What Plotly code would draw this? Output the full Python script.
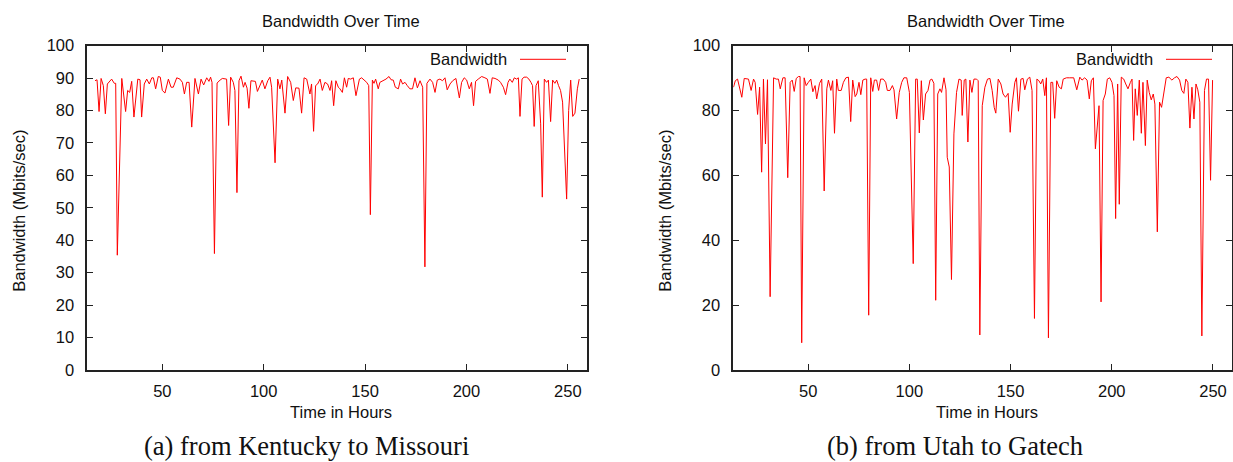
import plotly.graph_objects as go

# ---------------- data ----------------
ky_hours = [16.8, 17.8, 18.8, 19.8, 20.9, 21.9, 22.9, 25.0, 26.3, 27.0, 27.8, 30.0, 31.9, 32.9, 33.9, 34.9,
            36.0, 37.9, 39.0, 39.8, 41.1, 42.3, 43.6, 44.8, 45.6, 46.7, 48.0, 49.0, 50.0, 51.3, 53.0, 54.3,
            55.4, 57.1, 58.7, 59.9, 60.9, 62.0, 63.2, 64.5, 66.1, 67.8, 69.1, 70.4, 71.9, 73.0, 73.8, 74.5,
            75.7, 77.0, 78.5, 79.6, 81.7, 82.7, 83.7, 85.0, 85.8, 86.8, 87.8, 88.8, 90.0, 90.8, 91.8, 92.7,
            93.7, 94.9, 95.9, 96.9, 98.2, 99.3, 100.6, 102.0, 103.1, 103.9, 105.6, 106.9, 108.0, 108.9, 110.5,
            111.8, 113.3, 114.6, 115.8, 117.4, 118.7, 119.9, 121.2, 122.8, 123.6, 124.6, 125.6, 126.6, 127.8,
            128.9, 130.2, 131.5, 132.7, 133.5, 134.5,
            135.6, 136.8, 137.6, 138.8, 139.8, 140.9, 141.7, 142.9, 144.2, 145.5, 147.2, 148.3, 149.5, 150.8,
            151.8, 152.6, 153.6, 154.4, 155.2, 156.5, 157.3, 159.0, 160.3, 161.8, 162.8, 163.9, 164.9, 166.4,
            167.5, 168.5, 169.7, 170.8, 172.1, 173.4, 174.6, 175.8, 177.1, 178.4, 179.5, 180.5, 182.0, 183.3,
            184.5, 185.6, 186.9, 188.2, 189.4, 190.5, 191.9, 193.2, 194.8, 196.5, 197.6, 198.9, 200.1, 201.4,
            202.5, 203.5, 204.5, 205.8, 207.5, 209.1, 210.3, 211.6, 212.7, 214.1, 215.7, 216.8, 218.2, 219.3,
            220.5, 221.4, 222.6, 223.6, 224.7, 225.6, 226.4, 227.4, 228.4, 229.7, 230.8, 231.8, 232.6, 233.4,
            234.3, 235.4, 236.6, 237.4, 238.4, 239.5, 240.4, 241.5, 242.5, 243.6, 244.5, 245.4, 246.4, 247.4,
            249.4, 250.4, 251.4, 252.4, 253.5, 254.7, 255.6]
ky_bw = [89.2, 89.5, 79.7, 89.9, 87.7, 79.0, 88.2, 89.7, 88.4, 88.4, 35.4, 89.9, 79.7, 86.2, 85.6, 89.0,
         78.0, 89.7, 89.5, 78.0, 88.2, 89.7, 88.2, 90.1, 90.1, 86.7, 90.5, 90.3, 86.2, 85.4, 89.7, 87.2,
         87.2, 90.1, 89.7, 88.7, 85.1, 88.7, 88.7, 74.9, 89.9, 85.1, 89.7, 87.9, 90.1, 89.0, 90.3, 88.7,
         35.9, 88.5, 89.4, 89.9, 89.7, 75.4, 90.3, 88.7, 86.2, 54.7, 89.2, 90.6, 87.2, 88.7, 86.9, 80.7,
         89.2, 89.2, 89.0, 85.9, 87.7, 89.4, 86.7, 89.2, 90.3, 87.2, 63.9, 89.7, 86.7, 89.4, 79.2,
         90.5, 88.7, 83.1, 87.0, 86.9, 79.2, 90.1, 89.7, 85.1, 88.2, 73.6, 87.7, 88.2, 89.7,
         86.2, 88.7, 88.2, 86.2, 89.2, 81.5,
         89.2, 87.2, 86.7, 85.6, 90.1, 87.2, 89.9, 89.7, 90.1, 84.6, 89.7, 90.1, 89.4, 88.7,
         87.7, 47.9, 89.4, 88.4, 89.7, 86.7, 88.7, 89.2, 89.7, 90.5, 89.5, 89.4, 87.2, 86.7,
         89.7, 88.2, 88.7, 87.7, 86.7, 86.7, 90.1, 87.0, 89.2, 87.2, 31.8, 88.4, 89.7, 88.7,
         85.6, 89.4, 89.7, 89.2, 90.1, 86.4, 88.2, 89.2, 89.9, 83.9, 88.7, 90.1, 89.4, 86.7,
         88.7, 81.5, 89.0, 89.7, 90.5, 90.1, 89.7, 85.3, 90.1, 89.9, 89.4, 88.7, 87.2, 84.9,
         88.7, 89.7, 88.7, 90.1, 89.7, 90.1, 78.2, 89.7, 90.3, 90.3, 89.7, 88.7, 87.7, 75.1,
         87.7, 89.2, 75.9, 53.3, 89.7, 88.7, 89.4, 76.6, 89.4, 88.4, 89.4, 87.7, 86.2, 82.6,
         52.7, 80.0, 89.4, 78.2, 79.2, 86.7, 89.7]

ut_hours = [13.1, 14.0, 15.1, 17.2, 18.4, 20.5, 21.8, 23.0, 23.8, 25.0, 26.0, 27.0, 27.9, 28.9, 29.9, 31.2,
            32.9, 34.2, 35.3, 36.2, 37.5, 38.6, 39.9, 41.1, 42.1, 43.1, 44.1, 45.2, 46.0, 46.8, 48.0, 49.0,
            50.1, 51.3, 52.3, 53.4, 54.2, 55.6, 56.7, 57.9, 59.2, 60.0, 61.2, 62.1, 63.0, 64.1, 64.9, 66.3,
            67.4, 68.6, 69.9, 71.0, 72.0, 73.2, 74.0, 75.1, 76.0, 77.0, 78.1, 78.9, 79.9, 80.9, 81.9, 82.7,
            83.8, 84.8, 85.8, 87.1, 88.3, 89.1, 90.4, 91.6, 92.4, 93.7, 95.0, 96.2, 97.3, 98.7, 100.0, 101.9,
            103.1, 103.9, 104.9, 105.9, 106.9, 108.0, 109.2, 110.2, 111.1, 112.1, 113.0, 114.0, 115.1, 115.9,
            117.1, 118.1, 118.7, 119.7, 120.8, 122.0, 123.3, 124.5, 125.6, 126.1, 127.1, 127.9, 128.9, 129.9,
            130.9, 131.9, 133.2, 134.0, 134.8,
            136.0, 137.3, 138.6, 139.8, 140.9, 141.9, 142.7, 143.9, 145.2, 146.3, 147.5, 148.8, 149.8, 150.8,
            152.1, 152.9, 153.9, 155.1, 156.2, 157.0, 158.3, 159.5, 160.6, 161.8, 163.0, 164.0, 164.9, 165.9,
            166.9, 167.7, 168.7, 169.9, 170.8, 171.8, 172.8, 174.0, 175.1, 176.0, 177.6, 179.2, 181.2, 182.7,
            184.2, 185.3, 186.6, 187.8, 188.9, 189.9, 190.9, 191.9, 192.9, 193.7, 194.7, 195.7, 196.8, 197.8,
            199.0, 200.1, 201.1, 201.9, 202.9, 203.7, 204.7, 205.9, 206.9, 208.0, 209.2, 210.0, 210.8, 211.6,
            212.6, 213.6, 214.6, 215.4, 216.6, 217.5, 218.5, 219.5, 220.5, 221.3, 222.5, 223.6, 224.6, 225.8,
            226.9, 228.2, 229.7, 231.0, 232.2, 233.5, 234.6, 235.6, 236.6, 237.6, 238.6, 239.6, 240.6, 241.6,
            242.5, 243.5, 244.5, 245.8, 246.8, 247.8, 248.8, 249.8]
ut_bw = [87.2, 89.2, 89.7, 84.1, 89.9, 89.7, 86.2, 89.7, 88.7, 78.8, 87.2, 61.0, 89.7, 69.7, 89.5, 22.6,
         90.1, 89.7, 89.7, 86.7, 90.1, 90.1, 59.3, 88.7, 89.4, 85.9, 89.9, 90.5, 90.5, 8.4, 90.1, 87.7,
         88.7, 89.7, 85.8, 87.7, 83.6, 88.4, 89.7, 55.2, 86.7, 89.4, 86.2, 89.2, 73.0, 89.7, 86.2, 86.2,
         88.7, 90.1, 90.3, 76.6, 89.4, 84.3, 85.1, 88.7, 84.9, 89.4, 89.7, 89.7, 16.9, 90.1, 85.9, 89.4,
         89.4, 86.2, 89.7, 89.7, 88.7, 86.2, 86.2, 87.7, 86.4, 77.4, 85.6, 88.7, 90.1, 90.1, 85.6, 32.8,
         89.7, 89.7, 73.1, 89.2, 77.1, 85.1, 86.2, 89.4, 89.7, 88.4, 21.5, 85.1, 86.7, 85.6,
         90.1, 86.4, 65.6, 62.6, 27.9, 72.8, 85.6, 89.7, 89.4, 78.5, 89.4, 89.7, 70.3, 89.4,
         85.6, 89.7, 89.7, 89.2, 10.8,
         81.5, 87.2, 89.7, 89.9, 86.2, 81.0, 79.2, 89.7, 88.2, 85.1, 84.1, 85.3, 73.3, 82.0,
         88.7, 90.1, 79.8, 89.7, 89.9, 86.4, 89.7, 90.3, 86.2, 15.9, 89.7, 89.2, 88.2, 89.7,
         84.6, 90.1, 9.9, 88.7, 88.7, 77.6, 89.2, 87.2, 86.7, 89.7, 90.1, 90.1, 90.1, 86.4,
         90.3, 89.4, 90.1, 89.4, 83.6, 89.2, 90.1, 68.2, 76.9, 81.5, 21.0, 83.1, 85.1, 89.7,
         90.1, 88.7, 84.6, 46.7, 88.2, 51.1, 90.3, 89.7, 88.2, 86.7, 88.7, 89.7, 70.8, 86.7,
         78.5, 89.4, 73.0, 88.7, 69.2, 89.4, 85.6, 83.3, 85.1, 82.0, 42.6, 82.6, 81.0, 85.1,
         90.1, 90.3, 89.4, 90.1, 90.5, 89.4, 86.2, 85.3, 89.7, 88.7, 74.6, 87.2, 77.4, 88.2,
         86.4, 82.6, 10.5, 86.2, 89.7, 89.7, 58.5, 89.4]

x_range = [13.0, 259.3]
left_yticks = [0, 10, 20, 30, 40, 50, 60, 70, 80, 90, 100]
right_yticks = [0, 20, 40, 60, 80, 100]
xticks = [50, 100, 150, 200, 250]

plot_title = "Bandwidth Over Time"
x_title = "Time in Hours"
y_title = "Bandwidth (Mbits/sec)"
series_name = "Bandwidth"
captions = ["(a) from Kentucky to Missouri", "(b) from Utah to Gatech"]

# ---------------- layout geometry ----------------
W, H = 1233, 462
SANS = "Liberation Sans, Arial, Helvetica, sans-serif"
SERIF = "Liberation Serif, Times New Roman, serif"
FS = 16.5

def px(x):
    return x / W

def py(y):
    return (H - y) / H

dom_left = [px(87.3), px(586.7)]
dom_right = [px(733.3), px(1231.8)]
dom_y = [py(370), py(45.7)]

fig = go.Figure()
fig.add_trace(go.Scatter(x=ky_hours, y=ky_bw, mode="lines", name=series_name,
                         line=dict(color="#ff0000", width=1), xaxis="x", yaxis="y",
                         showlegend=False))
fig.add_trace(go.Scatter(x=ut_hours, y=ut_bw, mode="lines", name=series_name,
                         line=dict(color="#ff0000", width=1), xaxis="x2", yaxis="y2",
                         showlegend=False))

axis_common = dict(showline=True, linecolor="#222222", linewidth=1.6, mirror="ticks",
                   ticks="inside", ticklen=6, tickwidth=1, tickcolor="#222222",
                   showgrid=False, zeroline=False, automargin=False,
                   tickfont=dict(family=SANS, size=FS, color="#111111"))

fig.update_layout(
    template="none",
    width=W, height=H,
    autosize=False,
    margin=dict(l=0, r=0, t=0, b=0, pad=0, autoexpand=False),
    paper_bgcolor="white", plot_bgcolor="white",
    xaxis=dict(domain=dom_left, range=x_range, tickvals=xticks, anchor="y",
               ticklabelstandoff=5, **axis_common),
    yaxis=dict(domain=dom_y, range=[0, 100], tickvals=left_yticks, anchor="x",
               ticklabelstandoff=8, **axis_common),
    xaxis2=dict(domain=dom_right, range=x_range, tickvals=xticks, anchor="y2",
                ticklabelstandoff=5, **axis_common),
    yaxis2=dict(domain=dom_y, range=[0, 100], tickvals=right_yticks, anchor="x2",
                ticklabelstandoff=8, **axis_common),
)

annotations = []
shapes = []
for i, (dom, cap_x) in enumerate([(dom_left, 306.3), (dom_right, 955.0)]):
    x0, x1 = dom[0] * W, dom[1] * W
    cx = (x0 + x1) / 2
    annotations.append(dict(text=plot_title, x=px(cx + 3.5), y=py(20.7), xref="paper", yref="paper",
                            showarrow=False, xanchor="center", yanchor="middle",
                            font=dict(family=SANS, size=FS, color="#111111")))
    annotations.append(dict(text=x_title, x=px(cx + 4), y=py(412), xref="paper", yref="paper",
                            showarrow=False, xanchor="center", yanchor="middle",
                            font=dict(family=SANS, size=FS, color="#111111")))
    annotations.append(dict(text=y_title, x=px(x0 - 68.5), y=py(211), xref="paper", yref="paper",
                            showarrow=False, xanchor="center", yanchor="middle", textangle=-90,
                            font=dict(family=SANS, size=FS, color="#111111")))
    annotations.append(dict(text=series_name, x=px(x0 + 421.4), y=py(59.3), xref="paper", yref="paper",
                            showarrow=False, xanchor="right", yanchor="middle",
                            font=dict(family=SANS, size=FS, color="#111111")))
    shapes.append(dict(type="line", xref="paper", yref="paper",
                       x0=px(x0 + 432.7), x1=px(x0 + 478.7), y0=py(59.3), y1=py(59.3),
                       line=dict(color="#ff0000", width=1)))
    annotations.append(dict(text=captions[i], x=px(cap_x), y=py(446), xref="paper", yref="paper",
                            showarrow=False, xanchor="center", yanchor="middle",
                            font=dict(family=SERIF, size=26.5, color="#111111")))

fig.update_layout(annotations=annotations, shapes=shapes)
fig.write_html("out.html",
               config={"displayModeBar": False, "responsive": False},
               post_script="document.body.style.margin='0';document.body.style.overflow='hidden';")
